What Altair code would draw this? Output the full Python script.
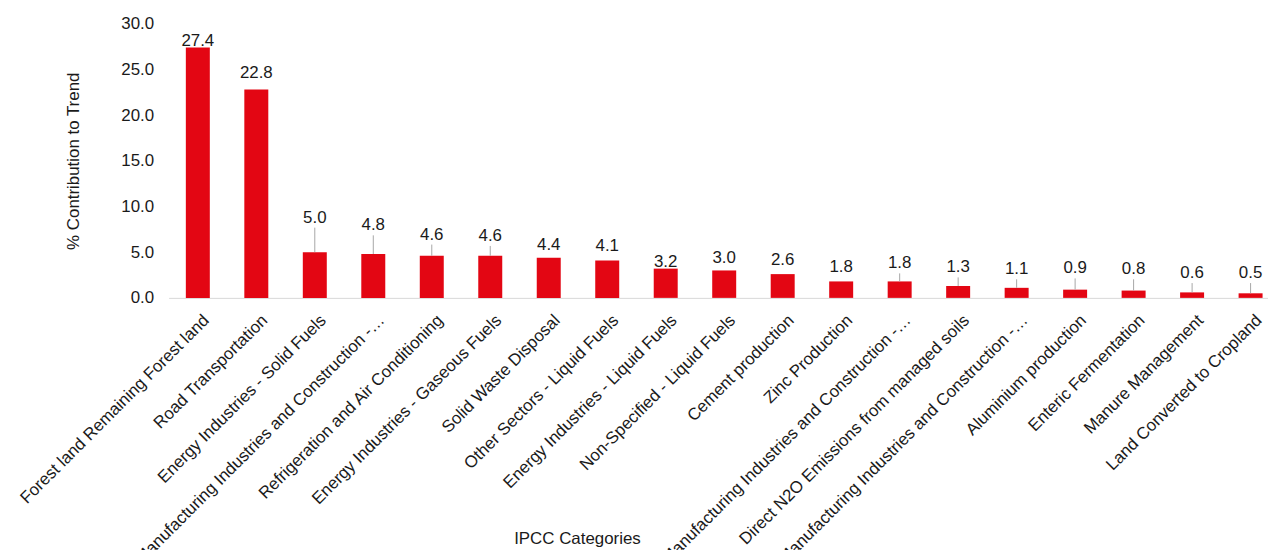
import json
import altair as alt
import pandas as pd

# ---------------- data ----------------
categories = [
    "Forest land Remaining Forest land",
    "Road Transportation",
    "Energy Industries - Solid Fuels",
    "Manufacturing Industries and Construction -\u2026",
    "Refrigeration and Air Conditioning",
    "Energy Industries - Gaseous Fuels",
    "Solid Waste Disposal",
    "Other Sectors - Liquid Fuels",
    "Energy Industries - Liquid Fuels",
    "Non-Specified - Liquid Fuels",
    "Cement production",
    "Zinc Production",
    "Manufacturing Industries and Construction -\u2026",
    "Direct N2O Emissions from managed soils",
    "Manufacturing Industries and Construction -\u2026",
    "Aluminium production",
    "Enteric Fermentation",
    "Manure Management",
    "Land Converted to Cropland",
]
values = [27.4, 22.8, 5.0, 4.8, 4.6, 4.6, 4.4, 4.1, 3.2, 3.0, 2.6,
          1.8, 1.8, 1.3, 1.1, 0.9, 0.8, 0.6, 0.5]
# where each data label sits (baseline, in axis units)
label_y = [27.5, 24.0, 8.23, 7.39, 6.38, 6.23, 5.22, 5.11, 3.42, 3.80, 3.59,
           2.79, 3.23, 2.79, 2.58, 2.68, 2.58, 2.17, 2.17]
has_leader = [False, False, True, True, True, True, False, False, False, False, False,
              False, True, True, True, True, True, True, True]
y_ticks = [0, 5, 10, 15, 20, 25, 30]

title_text = "Figure 3: Contribution of key categories to the Trend (1990, 2019) in percentages"
x_title = "IPCC Categories"
y_title = "% Contribution to Trend"

# ---------------- style ----------------
FONT = "Liberation Sans, Arial, sans-serif"
RED = "#E30613"
INK = "#1a1a1a"
LEADER = "#a6a6a6"
FS = 17
LEADER_GAP = 0.55  # gap between label baseline and leader start (axis units)

df = pd.DataFrame({
    "idx": list(range(len(categories))),
    "value": values,
    "label_y": label_y,
    "leader": has_leader,
})
df["leader_top"] = df["label_y"] - LEADER_GAP

label_expr = json.dumps(categories) + "[datum.value]"

x_axis = alt.Axis(
    title=x_title, labelExpr=label_expr, labelAngle=315, labelAlign="right",
    labelBaseline="top", labelPadding=14, labelOffset=3, labelLimit=500,
    labelOverlap=False, labelFont=FONT, labelFontSize=FS, labelColor=INK,
    ticks=False, grid=False, domainColor="#d9d9d9", domainWidth=1,
    titleFont=FONT, titleFontSize=FS, titleFontWeight="normal", titleColor=INK,
    titleX=411, titleY=247, titleAlign="center", titleBaseline="alphabetic",
)
y_axis = alt.Axis(
    title=y_title, values=y_ticks, format=".1f", domain=False, ticks=False,
    grid=False, labelPadding=15, labelFont=FONT, labelFontSize=FS, labelColor=INK,
    titleFont=FONT, titleFontSize=FS, titleFontWeight="normal", titleColor=INK,
    titleX=-96, titleY=138, titleAngle=270, titleAlign="center",
    titleBaseline="middle",
)
x_scale = alt.Scale(paddingInner=0.59, paddingOuter=0.295)
y_scale = alt.Scale(domain=[0, 30], nice=False, zero=True)

x_enc = alt.X("idx:O", scale=x_scale, axis=x_axis)

bars = alt.Chart(df).mark_bar(color=RED).encode(
    x=x_enc,
    y=alt.Y("value:Q", scale=y_scale, axis=y_axis),
)

leaders = alt.Chart(df).transform_filter("datum.leader").mark_rule(
    color=LEADER, strokeWidth=1
).encode(
    x=x_enc,
    y=alt.Y("leader_top:Q", scale=y_scale, axis=y_axis),
    y2="value:Q",
)

labels = alt.Chart(df).mark_text(
    baseline="alphabetic", align="center", font=FONT, fontSize=FS, color=INK
).encode(
    x=x_enc,
    y=alt.Y("label_y:Q", scale=y_scale, axis=y_axis),
    text=alt.Text("value:Q", format=".1f"),
)

chart = (bars + leaders + labels).properties(
    width=1118.3,
    height=276,
    autosize=alt.AutoSizeParams(type="none"),
    padding={"left": 161.6, "top": 14, "right": -11.9, "bottom": 252},
    title=alt.TitleParams(
        text=title_text, anchor="start", frame="group", offset=14,
        baseline="alphabetic", dx=-151.6, font=FONT, fontSize=20.5,
        fontWeight="bold", fontStyle="italic", color="#000000",
    ),
).configure(
    background="white",
    view=alt.ViewConfig(stroke=None),
)

chart.save("out.html", embed_options={"renderer": "svg", "actions": False})
